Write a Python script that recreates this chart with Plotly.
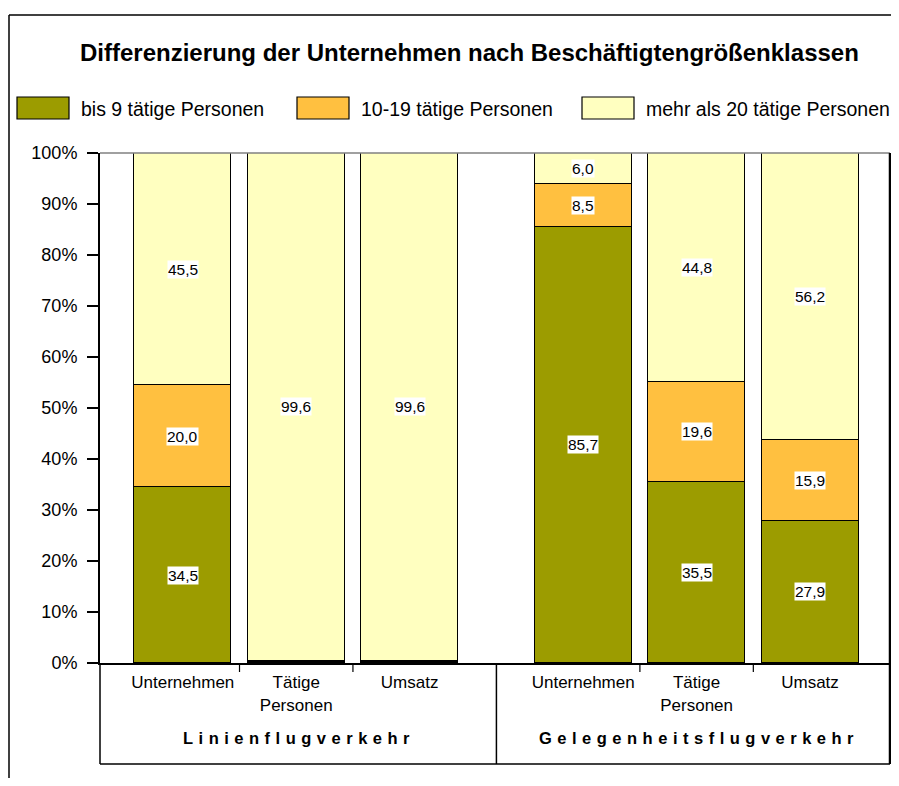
import plotly.graph_objects as go

# data (percent shares per size class)
groups = ["Linienflugverkehr", "Gelegenheitsflugverkehr"]
measures = ["Unternehmen", "Tätige<br>Personen", "Umsatz"]
series_names = ["bis 9 tätige Personen", "10-19 tätige Personen", "mehr als 20 tätige Personen"]
bis_9 = [34.5, 0.2, 0.2, 85.7, 35.5, 27.9]
von_10_19 = [20.0, 0.2, 0.2, 8.5, 19.6, 15.9]
ab_20 = [45.5, 99.6, 99.6, 6.0, 44.8, 56.2]

COLORS = ["#9C9C00", "#FFC040", "#FFFFC0"]
FONT = "Liberation Sans, Arial, sans-serif"

PAGE_W, PAGE_H, OFF = 899, 786, 8      # page size, body margin of the html page
W, H = PAGE_W - 2 * OFF, PAGE_H - 2 * OFF   # keep the page free of scrollbars
PL, PR, PT, PB = 100, 890, 153, 663   # plot area in page pixels


def px(x):
    return (x - PL) / (PR - PL)


def py(y):
    return (PB - y) / (PB - PT)


GAP = 0.53
pos = [g * (len(measures) + GAP) + i for g in range(len(groups)) for i in range(len(measures))]
series = [bis_9, von_10_19, ab_20]

fig = go.Figure()
for name, vals, col in zip(series_names, series, COLORS):
    fig.add_trace(go.Bar(
        x=pos, y=vals, name=name, width=0.855,
        marker=dict(color=col, line=dict(color="black", width=1.5)),
        hoverinfo="skip",
    ))

# value labels with white boxes, centred in each segment (normalised to 100 %)
for i, x in enumerate(pos):
    total = sum(s[i] for s in series)
    base = 0
    for s in series:
        v = s[i] / total * 100
        if s[i] >= 1:
            fig.add_annotation(
                x=x, y=base + v / 2, xref="x", yref="y",
                text=f"{s[i]:.1f}".replace(".", ","), showarrow=False,
                bgcolor="white", borderpad=0,
                font=dict(family=FONT, size=15.5, color="#000000"),
            )
        base += v

shapes = []
frame = dict(color="black", width=1.5)
# outer chart frame (right and bottom edges fall outside the picture)
shapes.append(dict(type="line", xref="paper", yref="paper",
                   x0=px(9), x1=px(9), y0=py(15), y1=py(800), line=frame))
shapes.append(dict(type="line", xref="paper", yref="paper",
                   x0=px(9), x1=px(905), y0=py(15), y1=py(15), line=frame))
# plot area top border and right border
shapes.append(dict(type="line", xref="paper", yref="paper",
                   x0=0, x1=1, y0=1, y1=1, line=dict(color="#808080", width=1.5)))
shapes.append(dict(type="line", xref="paper", yref="paper",
                   x0=1, x1=1, y0=1, y1=py(764), line=dict(color="black", width=2.5)))
# category box below the axis
shapes.append(dict(type="line", xref="paper", yref="paper",
                   x0=0, x1=0, y0=0, y1=py(764), line=frame))
shapes.append(dict(type="line", xref="paper", yref="paper",
                   x0=0, x1=1, y0=py(764), y1=py(764), line=frame))
mid_group = (pos[len(measures) - 1] + pos[len(measures)]) / 2
shapes.append(dict(type="line", xref="x", yref="paper",
                   x0=mid_group, x1=mid_group, y0=0, y1=py(764), line=frame))
for g in range(len(groups)):
    for i in range(len(measures) - 1):
        k = g * len(measures) + i
        xm = (pos[k] + pos[k + 1]) / 2
        shapes.append(dict(type="line", xref="x", yref="paper",
                           x0=xm, x1=xm, y0=0, y1=py(672),
                           line=dict(color="black", width=1.2)))

# group labels (spaced letters)
for g, name in enumerate(groups):
    xs = pos[g * len(measures):(g + 1) * len(measures)]
    fig.add_annotation(
        x=sum(xs) / len(xs), y=py(738), xref="x", yref="paper",
        xanchor="center", yanchor="middle",
        text="<b>" + "\u2004".join(name) + "</b>", showarrow=False,
        font=dict(family=FONT, size=16.5, color="black"),
    )

# custom legend with large swatches
legend_x = [17, 297, 582]
for lx, name, col in zip(legend_x, series_names, COLORS):
    shapes.append(dict(type="rect", xref="paper", yref="paper",
                       x0=px(lx), x1=px(lx + 52), y0=py(97), y1=py(119),
                       fillcolor=col, line=dict(color="black", width=1.2)))
    fig.add_annotation(
        x=px(lx + 62), y=py(108.5), xref="paper", yref="paper",
        xanchor="left", yanchor="middle",
        text=name, showarrow=False,
        font=dict(family=FONT, size=19.5, color="black"),
    )

# title
fig.add_annotation(
    x=px(469), y=py(52), xref="paper", yref="paper",
    xanchor="center", yanchor="middle",
    text="<b>Differenzierung der Unternehmen nach Beschäftigtengrößenklassen</b>",
    showarrow=False, font=dict(family=FONT, size=24, color="black"),
)

fig.update_layout(
    width=W, height=H,
    margin=dict(l=PL - OFF, r=OFF + W - PR, t=PT - OFF, b=OFF + H - PB, pad=0),
    barmode="stack", barnorm="percent", bargap=0,
    showlegend=False,
    paper_bgcolor="white", plot_bgcolor="white",
    font=dict(family=FONT, size=17, color="black"),
    shapes=shapes,
    xaxis=dict(
        range=[pos[0] - 0.73, pos[-1] + 0.705],
        tickvals=pos, ticktext=measures * len(groups),
        ticks="outside", ticklen=3, tickcolor="rgba(0,0,0,0)",
        showline=True, linecolor="black", linewidth=2,
        showgrid=False, zeroline=False,
        tickfont=dict(family=FONT, size=17, color="black"),
    ),
    yaxis=dict(
        range=[0, 100], dtick=10, ticksuffix="%",
        ticks="outside", ticklen=11, tickcolor="black", tickwidth=1.5,
        ticklabelstandoff=6,
        showline=True, linecolor="black", linewidth=2,
        showgrid=False, zeroline=False,
        tickfont=dict(family=FONT, size=18, color="black"),
    ),
)

fig.write_html("out.html")
